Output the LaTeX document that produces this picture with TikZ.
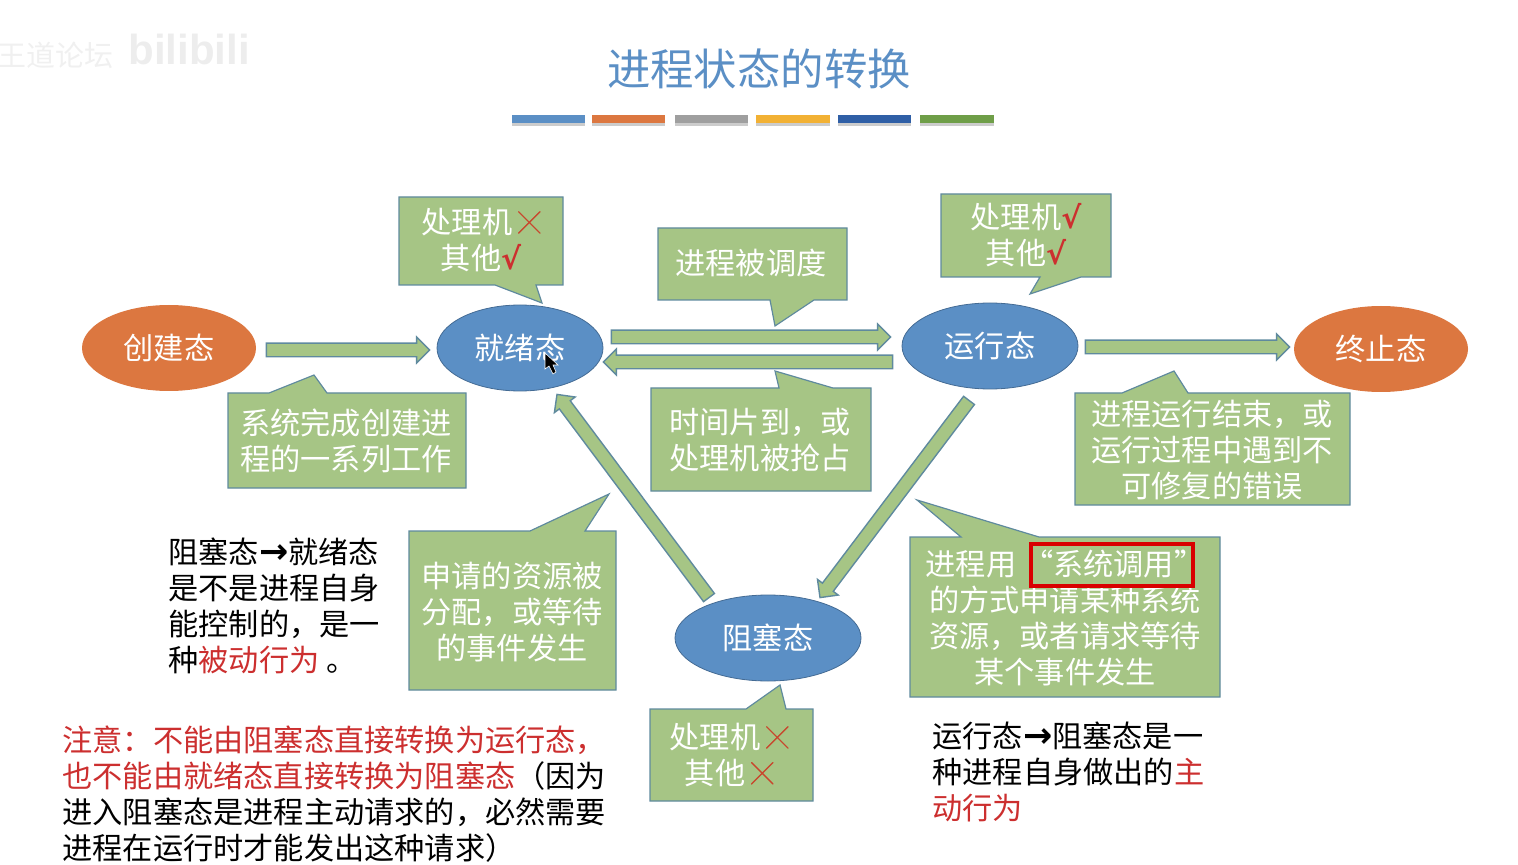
\documentclass[tikz,border=0pt]{standalone}
\usepackage{fontspec}
\setmainfont{Noto Sans CJK SC}
\newfontfamily\symfont{DejaVu Sans}
\newfontfamily\latinfont{Liberation Sans}
\newfontfamily\crossfont[FakeBold=1.5]{Noto Sans CJK SC}
\usepackage{xcolor}
\usetikzlibrary{calc,shapes.geometric}

\definecolor{slideblue}{HTML}{5B8FC5}
\definecolor{slideorange}{HTML}{DC7740}
\definecolor{tipgreen}{HTML}{A6C585}
\definecolor{tipedge}{HTML}{5F8A9E}
\definecolor{notered}{HTML}{CC2F2F}
\definecolor{crossred}{HTML}{C9452C}
\definecolor{barfour}{HTML}{F2B134}
\definecolor{barfive}{HTML}{2F5FA6}
\definecolor{barsix}{HTML}{6F9E48}

\tikzset{
  blue state/.style={ellipse,draw=slideblue!75!black,fill=slideblue,text=white,inner sep=0pt},
  orange state/.style={ellipse,fill=slideorange,text=white,inner sep=0pt},
  tipbox/.style={draw=tipedge,fill=tipgreen,line width=0.6pt,line join=miter},
  tiptext/.style={text=white,align=center,inner sep=0pt},
  flowarrow/.style={draw=tipedge,fill=tipgreen,line width=0.7pt},
  plaintext/.style={text=black,align=left,anchor=west,inner sep=0pt}
}

\newcommand{\blockarrow}[2]{%
  \coordinate (neck) at ($(#2)!6.5pt!(#1)$);
  \draw[flowarrow] ($(#1)!3.4pt!90:(#2)$) -- ($(neck)!3.4pt!-90:(#1)$) -- ($(neck)!6.5pt!-90:(#1)$) -- (#2)
    -- ($(neck)!6.5pt!90:(#1)$) -- ($(neck)!3.4pt!90:(#1)$) -- ($(#1)!3.4pt!-90:(#2)$) -- cycle;
}
\newcommand{\markno}{\hspace{3pt}{\color{crossred}\crossfont\fontsize{11}{18}\selectfont\raisebox{1.4pt}{╳}}}
\newcommand{\markyes}{{\color{notered}\bfseries\symfont\fontsize{15}{18}\selectfont √}}
\newcommand{\flowsign}{{\symfont\bfseries\fontsize{17.5}{18}\selectfont →}}

\begin{document}
\begin{tikzpicture}[x=0.5pt,y=-0.5pt,every node/.style={font=\fontsize{15.1}{17.9}\selectfont}]
  \useasboundingbox (0,0) rectangle (1518,865);
  \node[text=gray!12] (markcn) at (55,55){\fontsize{14.5}{16}\selectfont 王道论坛};
  \node[text=gray!14] (markbili) at (189,49){\latinfont\bfseries\fontsize{21}{28}\selectfont bilibili};

  \node[text=slideblue] (title) at (759,69){\fontsize{21.7}{24}\selectfont 进程状态的转换};
  \foreach \barcolor/\x/\xx in {slideblue/512/585,slideorange/592/665,gray!75/675/748,barfour/756/830,barfive/838/911,barsix/920/994}{
    \fill[black!20] (\x,118) rectangle (\xx,126);
    \fill[\barcolor] (\x,115) rectangle (\xx,123);
  }

  \node[orange state,minimum width=87pt,minimum height=43pt] (create) at (169,348){创建态};
  \node[blue state,minimum width=83pt,minimum height=43pt] (ready) at (520,348){就绪态};
  \node[blue state,minimum width=88pt,minimum height=43pt] (running) at (990,346){运行态};
  \node[orange state,minimum width=87pt,minimum height=43pt] (finish) at (1381,349){终止态};
  \node[blue state,minimum width=93pt,minimum height=43pt] (blocked) at (768,638){阻塞态};

  \coordinate (admitA) at ([shift={(10,2)}]create.east); \coordinate (admitB) at ([shift={(-7,2)}]ready.west);
  \coordinate (dispatchA) at ([shift={(8,-11)}]ready.east); \coordinate (dispatchB) at ([shift={(-11,-9)}]running.west);
  \coordinate (timeoutA) at ([shift={(-9,16)}]running.west); \coordinate (timeoutB) at ([shift={(0,14)}]ready.east);
  \coordinate (exitA) at ([shift={(7,1)}]running.east); \coordinate (exitB) at ([shift={(-4,-2)}]finish.west);
  \coordinate (waitA) at ([shift={(-21,11)}]running.south); \coordinate (waitB) at ([shift={(52,3)}]blocked.north);
  \coordinate (wakeA) at ([shift={(-59,3)}]blocked.north); \coordinate (wakeB) at ([shift={(37,3)}]ready.south);
  \blockarrow{admitA}{admitB}
  \blockarrow{dispatchA}{dispatchB}
  \blockarrow{timeoutA}{timeoutB}
  \blockarrow{exitA}{exitB}
  \blockarrow{waitA}{waitB}
  \blockarrow{wakeA}{wakeB}

  \draw[tipbox] (399,197)--(563,197)--(563,285)--(536,285)--(542,303)--(495,285)--(399,285)--cycle;
  \node[tiptext] (readytip) at (481,240){处理机\markno\\其他\markyes};
  \draw[tipbox] (658,228)--(847,228)--(847,300)--(814,300)--(775,326)--(770,300)--(658,300)--cycle;
  \node[tiptext] (dispatchtip) at (751,263){进程被调度};
  \draw[tipbox] (941,194)--(1111,194)--(1111,277)--(1081,277)--(1030,294)--(1040,277)--(941,277)--cycle;
  \node[tiptext] (runningtip) at (1026,235){处理机\markyes\\其他\markyes};
  \draw[tipbox] (228,393)--(269,393)--(314,375)--(327,393)--(466,393)--(466,488)--(228,488)--cycle;
  \node[tiptext] (admittip) at (346,441){系统完成创建进\\程的一系列工作};
  \draw[tipbox] (651,388)--(779,388)--(775,371)--(833,388)--(871,388)--(871,491)--(651,491)--cycle;
  \node[tiptext] (timeouttip) at (760,440){时间片到，或\\处理机被抢占};
  \draw[tipbox] (1075,393)--(1122,393)--(1174,371)--(1188,393)--(1350,393)--(1350,505)--(1075,505)--cycle;
  \node[tiptext] (exittip) at (1212,450){进程运行结束，或\\运行过程中遇到不\\可修复的错误};
  \draw[tipbox] (409,531)--(530,531)--(609,494)--(585,531)--(616,531)--(616,690)--(409,690)--cycle;
  \node[tiptext] (waketip) at (512,612){申请的资源被\\分配，或等待\\的事件发生};
  \draw[tipbox] (910,537)--(961,537)--(917,500)--(1039,537)--(1220,537)--(1220,697)--(910,697)--cycle;
  \node[tiptext] (waittip) at (1065,618){进程用 “系统调用”\\的方式申请某种系统\\资源，或者请求等待\\某个事件发生};
  \draw[tipbox] (650,709)--(746,709)--(780,685)--(786,709)--(813,709)--(813,801)--(650,801)--cycle;
  \node[tiptext] (blockedtip) at (729,755){处理机\markno\\其他\markno};
  \draw[draw=red!85!black,line width=1.6pt] (1031,544) rectangle (1193,586);

  \node[plaintext] (wakenote) at (168,606){阻塞态\flowsign 就绪态\\是不是进程自身\\能控制的，是一\\种{\color{notered}被动行为} 。};
  \node[plaintext] (waitnote) at (932,772){运行态\flowsign 阻塞态是一\\种进程自身做出的{\color{notered}主}\\{\color{notered}动行为}};
  \node[plaintext] (warnnote) at (62,794){{\color{notered}注意：不能由阻塞态直接转换为运行态，}\\{\color{notered}也不能由就绪态直接转换为阻塞态}（因为\\进入阻塞态是进程主动请求的，必然需要\\进程在运行时才能发出这种请求）};

  \draw[fill=black,draw=white,line width=0.3pt] (545,353)--(545,369)--(549,366)--(553,374)--(556,372)--(553,365)--(558,365)--cycle;
\end{tikzpicture}
\end{document}
